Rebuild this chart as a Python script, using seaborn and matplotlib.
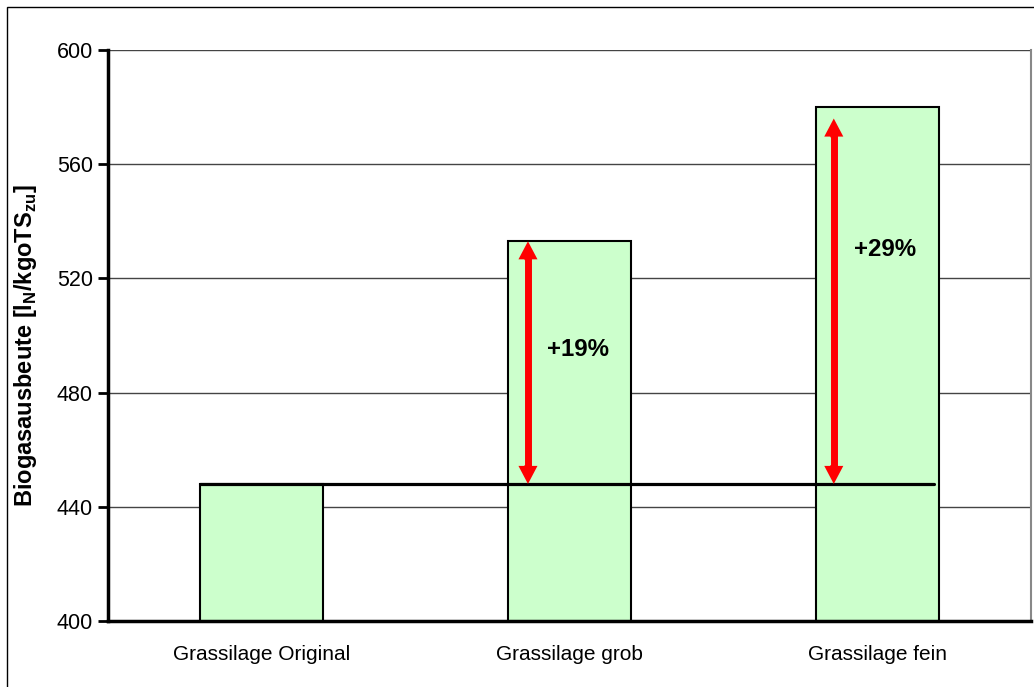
import matplotlib
matplotlib.use("Agg")
import matplotlib.pyplot as plt
import seaborn as sns
import pandas as pd
from matplotlib.patches import Rectangle

categories = ["Grassilage Original", "Grassilage grob", "Grassilage fein"]
values = [448, 533, 580]
arrow_tops = [533, 576]
pct_labels = ["+19%", "+29%"]
label_y = [495, 530]
y_ticks = [400, 440, 480, 520, 560, 600]

sns.set_style("white")
plt.rcParams["font.family"] = ["Liberation Sans", "DejaVu Sans"]
plt.rcParams["mathtext.fontset"] = "custom"
plt.rcParams["mathtext.rm"] = "Liberation Sans"
plt.rcParams["mathtext.bf"] = "Liberation Sans:bold"
for k in ["text.color", "axes.labelcolor", "xtick.color", "ytick.color"]:
    plt.rcParams[k] = "black"

fig = plt.figure(figsize=(10.34, 6.87), dpi=100)
ax = fig.add_axes([108/1034, 1-621/687, (1031-108)/1034, (621-50)/687])

df = pd.DataFrame({"cat": categories, "val": values})
sns.barplot(data=df, x="cat", y="val", color="#CCFFCC", saturation=1,
            edgecolor="black", linewidth=1.5, width=0.4, ax=ax, zorder=3)

ax.set_xlim(-0.5, 2.5)
ax.set_ylim(400, 600)
ax.set_yticks(y_ticks)
ax.set_xticks([-0.5, 0.5, 1.5, 2.5], minor=True)
ax.tick_params(axis="x", which="major", length=0, labelsize=15, pad=17)
ax.tick_params(axis="x", which="minor", length=7, width=2, direction="out", color="black")
ax.tick_params(axis="y", length=7, width=2, direction="out", color="black", labelsize=15.5, pad=4, left=True)
ax.set_xlabel("")
ax.set_ylabel(r"Biogasausbeute [l$_\mathbf{N}$/kgoTS$_\mathbf{zu}$]",
              fontsize=17, fontweight="bold")
ax.yaxis.set_label_coords(-0.0745, 0.482)

for t in y_ticks[1:]:
    ax.axhline(t, color="#444444", lw=1, zorder=1)

ax.spines["top"].set_visible(False)
ax.spines["right"].set_color("#888888")
ax.spines["right"].set_linewidth(1.5)
for s in ["left", "bottom"]:
    ax.spines[s].set_linewidth(2.5)
    ax.spines[s].set_color("black")
    ax.spines[s].set_zorder(5)

base = values[0]
ax.plot([-0.2, 2.185], [base, base], color="black", lw=2.3, zorder=4)

arrow_x = [0.865, 1.859]
for i, (xa, top) in enumerate(zip(arrow_x, arrow_tops)):
    ax.plot([xa, xa], [base + 4, top - 4], color="red", lw=5, solid_capstyle="butt", zorder=6)
    for end, start in ((top, top - 6.6), (base, base + 6.6)):
        ax.annotate("", xy=(xa, end), xytext=(xa, start),
                    arrowprops=dict(arrowstyle="simple,head_length=1.3,head_width=1.37,tail_width=0.5",
                                    color="red", shrinkA=0, shrinkB=0, mutation_scale=10, lw=0),
                    zorder=6)
    ax.text(i + 1 + 0.027, label_y[i], pct_labels[i], fontsize=17.3, fontweight="bold",
            ha="center", va="center", zorder=7)

fig.patches.append(Rectangle((7/1034, -0.05), 1.1, 1 - 7/687 + 0.05, transform=fig.transFigure,
                             fill=False, edgecolor="black", lw=1, zorder=0))

fig.savefig("out.png", dpi=100)
